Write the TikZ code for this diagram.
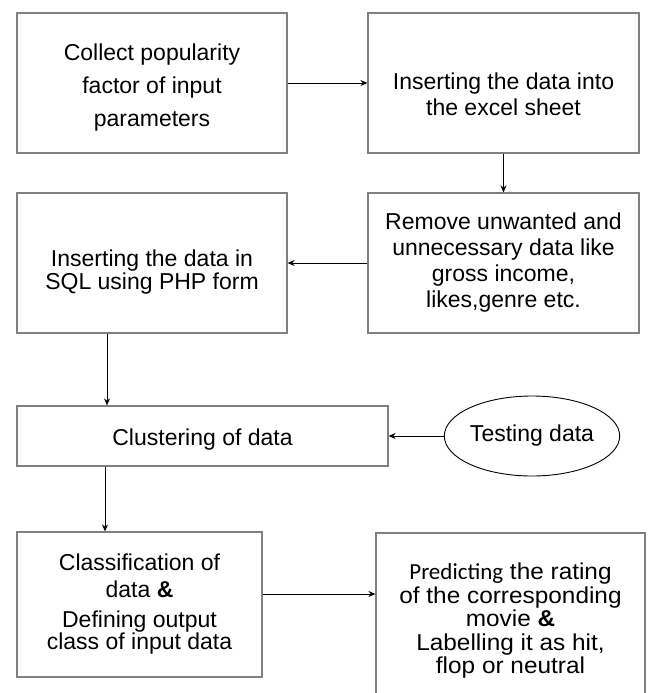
\documentclass[tikz,border=0pt]{standalone}
\usepackage{fontspec}
\setmainfont{Liberation Sans}
\newfontfamily\widesans{Liberation Sans}[FakeStretch=1.06]
\newfontfamily\calibri{Carlito}
\usetikzlibrary{arrows.meta,shapes.geometric}

\begin{document}
\begin{tikzpicture}[x=1pt,y=-1pt,
  box/.style={draw=gray, line width=1.2pt, align=center, inner sep=0pt, font=\fontsize{23}{27}\selectfont},
  txt/.style={align=center, inner sep=0pt, font=\fontsize{23}{27}\selectfont},
  flow/.style={-{Stealth[length=7pt,width=6pt]}, line width=0.9pt}]
\clip (0,0) rectangle (649,693);

\node[box, minimum width=270pt, minimum height=140pt,
  label={[txt, yshift=-5pt, font=\fontsize{23}{33}\selectfont]center:Collect popularity\\factor of input\\parameters}] (collect) at (152,83) {};
\node[box, minimum width=271pt, minimum height=140pt,
  label={[txt, yshift=-11pt, font=\fontsize{23}{26}\selectfont]center:Inserting the data into\\the excel sheet}] (excel) at (503.5,83) {};

\node[box, minimum width=270pt, minimum height=140pt,
  label={[txt, yshift=-9pt, font=\fontsize{23}{23}\selectfont]center:Inserting the data in\\SQL using PHP form}] (sql) at (152,263) {};
\node[box, minimum width=271pt, minimum height=140pt, font=\fontsize{23}{26}\selectfont] (remove) at (503.5,263) {Remove unwanted and\\unnecessary data like\\gross income,\\likes,genre etc.};

\node[box, minimum width=371pt, minimum height=60pt,
  label={[txt, yshift=-4pt]center:Clustering of data}] (cluster) at (202.5,436) {};
\node[draw, ellipse, line width=0.9pt, minimum width=160pt, minimum height=80pt, inner sep=0pt, font=\fontsize{23}{27}\selectfont] (testing) at (532,436) {Testing data};

\node[box, minimum width=245pt, minimum height=145pt] (classify) at (139.5,604.5) {Classification of\\data \textbf{\&}\\[3pt]Defining output\\[-5pt]class of input data};
\node[box, minimum width=269pt, minimum height=176pt, font=\widesans\fontsize{23}{23.5}\selectfont] (predict) at (510.5,621) {{\calibri Predicting} the rating\\of the corresponding\\movie \textbf{\&}\\Labelling it as hit,\\flop or neutral};

\draw[flow] (collect) -- (excel);
\draw[flow] (excel) -- (remove);
\draw[flow] (remove) -- (sql);
\draw[flow] ([xshift=-45pt]sql.south) -- ([xshift=-45pt]sql.south |- cluster.north);
\draw[flow] (testing) -- (cluster);
\draw[flow] ([xshift=-97.5pt]cluster.south) -- ([xshift=-97.5pt]cluster.south |- classify.north);
\draw[flow] ([yshift=10.5pt]classify.east) -- ([yshift=10.5pt]classify.east -| predict.west);
\end{tikzpicture}
\end{document}
